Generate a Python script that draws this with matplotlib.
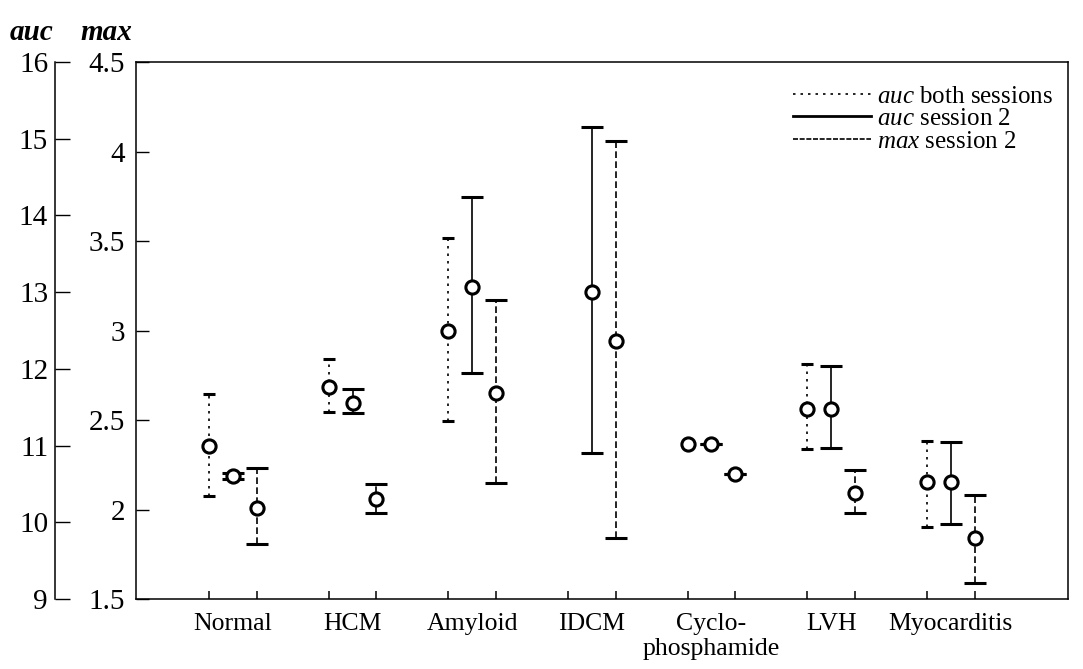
import numpy as np
import matplotlib
matplotlib.use("Agg")
import matplotlib.pyplot as plt
from matplotlib.lines import Line2D

plt.rcParams['font.family'] = ['Liberation Serif', 'DejaVu Serif']
plt.rcParams['mathtext.fontset'] = 'custom'
plt.rcParams['mathtext.rm'] = 'Liberation Serif'
plt.rcParams['mathtext.it'] = 'Liberation Serif:italic'
plt.rcParams['xtick.direction'] = 'in'
plt.rcParams['ytick.direction'] = 'in'

groups = ['Normal', 'HCM', 'Amyloid', 'IDCM', 'Cyclo-\nphosphamide', 'LVH', 'Myocarditis']

# auc over both sessions (IDCM not available)
auc_both = [10.99, 11.76, 12.49, np.nan, 11.02, 11.48, 10.53]
auc_both_lo = [10.34, 11.44, 11.32, np.nan, 11.02, 10.96, 9.94]
auc_both_hi = [11.67, 12.13, 13.71, np.nan, 11.02, 12.06, 11.06]

# auc session 2
auc_s2 = [10.60, 11.56, 13.07, 13.00, 11.02, 11.48, 10.53]
auc_s2_lo = [10.56, 11.42, 11.95, 10.90, 11.02, 10.97, 9.98]
auc_s2_hi = [10.64, 11.74, 14.24, 15.15, 11.02, 12.04, 11.05]

# max session 2
max_s2 = [2.01, 2.06, 2.65, 2.94, 2.20, 2.09, 1.84]
max_s2_lo = [1.81, 1.98, 2.15, 1.84, 2.20, 1.98, 1.59]
max_s2_hi = [2.23, 2.14, 3.17, 4.06, 2.20, 2.22, 2.08]

auc_ticks = [9, 10, 11, 12, 13, 14, 15, 16]
max_ticks = [1.5, 2, 2.5, 3, 3.5, 4, 4.5]

x = np.arange(len(groups))
offset = 0.2

fig = plt.figure(figsize=(10.83, 6.69), dpi=100)
ax = fig.add_axes([0.1256, 0.1046, 0.8605, 0.8027])
ax_auc = ax.twinx()


def draw(axis, xs, mid, lo, hi, ls, capsize):
    mid = np.asarray(mid)
    err = np.vstack([mid - np.asarray(lo), np.asarray(hi) - mid])
    eb = axis.errorbar(xs, mid, yerr=err, fmt='o', ms=9.5, mfc='white', mec='black',
                       mew=2.2, ecolor='black', elinewidth=1.2, capsize=capsize,
                       capthick=1.0, zorder=3)
    eb[2][0].set_linestyle(ls)


draw(ax_auc, x - offset, auc_both, auc_both_lo, auc_both_hi, (0, (1.5, 3)), 4.5)
draw(ax_auc, x, auc_s2, auc_s2_lo, auc_s2_hi, '-', 8)
draw(ax, x + offset, max_s2, max_s2_lo, max_s2_hi, (0, (4, 2)), 8)

# max scale on the inner axis
ax.set_ylim(1.5, 4.5)
ax.set_yticks(max_ticks)
ax.set_yticklabels([f'{t:g}' for t in max_ticks])
ax.set_xlim(-0.81, 6.98)
ax.set_xticks(x)
ax.set_xticklabels(groups)
ax.set_xticks(np.concatenate([x - offset, x + offset]), minor=True)
for s in ax.spines.values():
    s.set_linewidth(1.1)

# auc scale on the outer axis
ax_auc.set_ylim(9, 16)
ax_auc.yaxis.set_ticks_position('left')
ax_auc.yaxis.set_label_position('left')
ax_auc.spines['left'].set_position(('axes', -81 / 932))
for side in ('right', 'top', 'bottom'):
    ax_auc.spines[side].set_visible(False)
ax_auc.spines['left'].set_linewidth(1.1)
ax_auc.set_yticks(auc_ticks)

ax.yaxis.set_tick_params(which='major', direction='in', length=9, width=1,
                         labelsize=21, pad=8, right=False, left=True)
ax.xaxis.set_tick_params(which='major', length=0, labelsize=18.5, pad=10)
ax.xaxis.set_tick_params(which='minor', direction='in', length=6, width=1.1,
                         top=False, bottom=True)
ax_auc.yaxis.set_tick_params(which='major', direction='in', length=11, width=1,
                             labelsize=21, pad=5, right=False, left=True)

fig.text(0.009, 0.952, 'auc', fontsize=21, fontweight='bold', style='italic', va='center')
fig.text(0.074, 0.952, 'max', fontsize=21, fontweight='bold', style='italic', va='center')

handles = [Line2D([], [], color='black', lw=1.2, ls=(0, (1.5, 3))),
           Line2D([], [], color='black', lw=2.0, ls='-'),
           Line2D([], [], color='black', lw=1.2, ls=(0, (3, 1)))]
labels = [r'$\mathit{auc}$ both sessions', r'$\mathit{auc}$ session 2',
          r'$\mathit{max}$ session 2']
ax.legend(handles, labels, loc='upper right', bbox_to_anchor=(1.0, 0.985), frameon=False,
          fontsize=18, handlelength=3.1, handletextpad=0.25, labelspacing=0.0,
          borderaxespad=0.2)

fig.savefig('out.png', dpi=100)
